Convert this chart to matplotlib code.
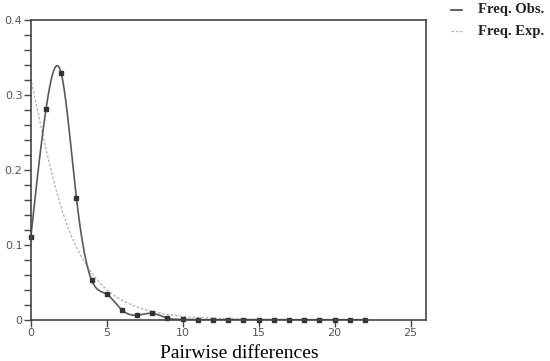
import numpy as np
import matplotlib
matplotlib.use("Agg")
import matplotlib.pyplot as plt
from matplotlib.ticker import MultipleLocator

diffs = list(range(0, 23))
freq_obs = [0.110, 0.281, 0.329, 0.163, 0.053, 0.034, 0.013, 0.006, 0.0085, 0.002, 0.0005,
            0, 0, 0, 0, 0, 0, 0, 0, 0, 0, 0, 0]
freq_exp = [0.322, 0.228, 0.150, 0.097, 0.063, 0.040, 0.026, 0.017, 0.011, 0.007, 0.0045,
            0.003, 0.002, 0.0013, 0.0008, 0.0005, 0.0003, 0.0002, 0.0001, 0.0001, 0.0, 0.0, 0.0]


def natural_spline(x, y, n=800):
    x = np.asarray(x, float); y = np.asarray(y, float)
    k = len(x); h = np.diff(x)
    A = np.zeros((k, k)); b = np.zeros(k)
    A[0, 0] = A[-1, -1] = 1
    for i in range(1, k - 1):
        A[i, i - 1] = h[i - 1]; A[i, i] = 2 * (h[i - 1] + h[i]); A[i, i + 1] = h[i]
        b[i] = 3 * ((y[i + 1] - y[i]) / h[i] - (y[i] - y[i - 1]) / h[i - 1])
    c = np.linalg.solve(A, b)
    xs = np.linspace(x[0], x[-1], n)
    idx = np.clip(np.searchsorted(x, xs) - 1, 0, k - 2)
    bb = (y[1:] - y[:-1]) / h - h * (2 * c[:-1] + c[1:]) / 3
    d = (c[1:] - c[:-1]) / (3 * h)
    t = xs - x[idx]
    ys = y[idx] + bb[idx] * t + c[idx] * t ** 2 + d[idx] * t ** 3
    return xs, ys


fig = plt.figure(figsize=(5.5, 3.61), dpi=100)
ax = fig.add_axes([0.056, 0.1144, 0.718, 0.8302])

xs, ys = natural_spline(diffs, freq_exp)
ax.plot(xs, ys, color="#b0b0b0", lw=0.9, ls=(0, (2, 1.5)))
xs, ys = natural_spline(diffs, freq_obs)
ax.plot(xs, ys, color="#5a5a5a", lw=1.2)
ax.plot(diffs, freq_obs, ls="none", marker="s", ms=2.6, color="#333333", clip_on=False)

ax.set_xlim(0, 26)
ax.set_ylim(0, 0.4)
ax.set_xticks([0, 5, 10, 15, 20, 25])
ax.set_yticks([0, 0.1, 0.2, 0.3, 0.4])
ax.set_yticklabels(["0", "0.1", "0.2", "0.3", "0.4"])
ax.yaxis.set_minor_locator(MultipleLocator(0.02))
ax.tick_params(axis="both", which="both", direction="out", length=5, width=1,
               color="#444444", labelsize=8, labelcolor="#555555", pad=1)
for s in ax.spines.values():
    s.set_color("#444444")
    s.set_linewidth(1.2)

ax.set_xlabel("Pairwise differences", family="Liberation Serif", fontsize=14, labelpad=4)
ax.xaxis.set_label_coords(0.527, -0.085)

fig.lines.append(plt.Line2D([451 / 550, 462 / 550], [1 - 10 / 361, 1 - 10 / 361],
                            color="#444444", lw=1.2, transform=fig.transFigure))
fig.lines.append(plt.Line2D([451 / 550, 462 / 550], [1 - 31 / 361, 1 - 31 / 361],
                            color="#b0b0b0", lw=0.9, ls=(0, (2, 1.5)), transform=fig.transFigure))
fig.text(478 / 550, 1 - 10 / 361, "Freq. Obs.", family="Liberation Serif", weight="bold",
         fontsize=10.5, va="center", ha="left", color="#222222")
fig.text(478 / 550, 1 - 31 / 361, "Freq. Exp.", family="Liberation Serif", weight="bold",
         fontsize=10.5, va="center", ha="left", color="#222222")

fig.savefig("out.png", dpi=100)
